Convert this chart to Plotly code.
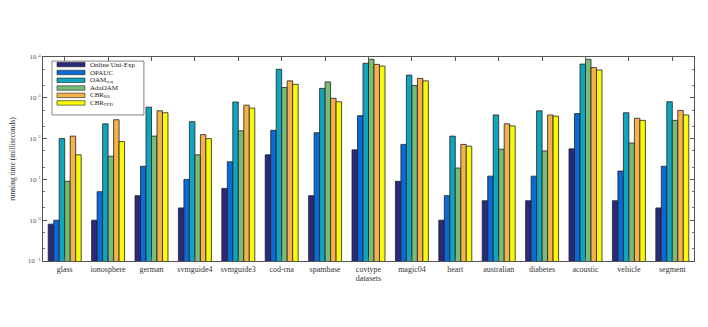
import plotly.graph_objects as go

datasets = ["glass", "ionosphere", "german", "svmguide4", "svmguide3", "cod-rna", "spambase",
            "covtype", "magic04", "heart", "australian", "diabetes", "acoustic", "vehicle", "segment"]

online_uni_exp = [0.8, 1.0, 4, 2, 6, 40, 4, 53, 9, 1.0, 3, 3, 56, 3, 2]
opauc = [1.0, 5, 21, 10, 27, 160, 140, 365, 72, 4, 12, 12, 410, 16, 21]
oam_seq = [100, 230, 590, 260, 790, 5000, 1700, 7000, 3600, 115, 380, 480, 6700, 430, 800]
adaoam = [9, 37, 115, 40, 155, 1780, 2450, 8800, 2000, 19, 55, 50, 8800, 78, 280]
cbr_rs = [115, 290, 480, 125, 660, 2600, 970, 6600, 3000, 72, 230, 380, 5500, 315, 490]
cbr_ffd = [40, 85, 430, 100, 560, 2140, 800, 6000, 2600, 65, 205, 355, 4800, 280, 380]

series_names = ["Online Uni-Exp", "OPAUC", "OAM<sub>seq</sub>", "AdaOAM", "CBR<sub>RS</sub>", "CBR<sub>FFD</sub>"]
series_values = [online_uni_exp, opauc, oam_seq, adaoam, cbr_rs, cbr_ffd]
series_colors = ["#2b2a7a", "#0a6ad8", "#0fa5bf", "#7abb78", "#f4b24a", "#f9f90a"]

ytickvals = [0.1, 1, 10, 100, 1000, 10000]
yticktext = ["10 <sup>-1</sup>", "10 <sup>0</sup>", "10 <sup>1</sup>", "10 <sup>2</sup>", "10 <sup>3</sup>", "10 <sup>4</sup>"]

font = "Liberation Serif, Times New Roman, serif"

fig = go.Figure()
for name, vals, color in zip(series_names, series_values, series_colors):
    fig.add_trace(go.Bar(
        x=datasets, y=vals, name=name, showlegend=False,
        marker=dict(color=color, line=dict(color="#222222", width=0.8)),
    ))

# Manual compact legend (MATLAB style)
shapes = [dict(type="rect", xref="paper", yref="paper", x0=0.0138, x1=0.155, y0=0.716, y1=0.98,
               line=dict(color="#666666", width=0.8), fillcolor="white", layer="above")]
annotations = []
entry_y = [0.963, 0.924, 0.886, 0.848, 0.812, 0.775]
for name, color, yc in zip(series_names, series_colors, entry_y):
    shapes.append(dict(type="rect", xref="paper", yref="paper", x0=0.0215, x1=0.0645,
                       y0=yc - 0.011, y1=yc + 0.011, line=dict(color="#222222", width=0.6),
                       fillcolor=color, layer="above"))
    annotations.append(dict(xref="paper", yref="paper", x=0.069, y=yc, xanchor="left", yanchor="middle",
                            text=name, showarrow=False,
                            font=dict(family=font, size=7, color="#222222")))

fig.update_layout(
    width=700, height=319,
    margin=dict(l=35, r=14, t=49, b=66),
    paper_bgcolor="white", plot_bgcolor="white",
    barmode="group", bargap=0.24, bargroupgap=0,
    font=dict(family=font, size=8, color="#333333"),
    shapes=shapes, annotations=annotations,
    xaxis=dict(
        automargin=False,
        showline=True, linecolor="#555555", linewidth=1, mirror="ticks",
        ticks="inside", ticklen=4, tickcolor="#555555",
        tickfont=dict(family=font, size=8, color="#333333"),
        title=dict(text="datasets", font=dict(family=font, size=8, color="#333333"), standoff=0),
    ),
    yaxis=dict(
        automargin=False,
        type="log", range=[-1, 4],
        showline=True, linecolor="#555555", linewidth=1, mirror="ticks",
        ticks="inside", ticklen=4, tickcolor="#555555",
        tickvals=ytickvals, ticktext=yticktext,
        minor=dict(ticks="inside", ticklen=2, tickcolor="#777777", showgrid=False),
        showgrid=False, zeroline=False,
        tickfont=dict(family=font, size=7, color="#555555"),
        title=dict(text="running time (milliseconds)", font=dict(family=font, size=7.5, color="#333333"), standoff=12),
    ),
)

fig.write_html("out.html")
